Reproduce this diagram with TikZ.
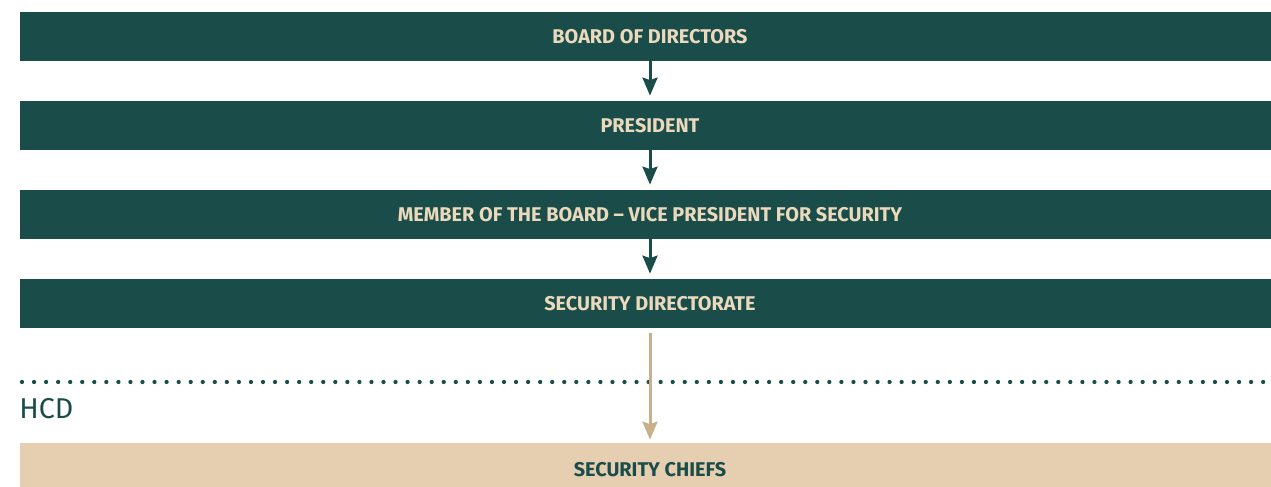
\documentclass[tikz,border=0pt]{standalone}
\usepackage{fontspec}
\setmainfont{Fira Sans}
\usepackage{xcolor}
\usetikzlibrary{arrows.meta}
\usetikzlibrary{positioning}
\definecolor{hcdgreen}{HTML}{1A4D4A}
\definecolor{hcdcream}{HTML}{EBD9BC}
\definecolor{hcdsand}{HTML}{E6CFB1}
\definecolor{hcdtan}{HTML}{C8B08C}

\begin{document}
\begin{tikzpicture}[
  level/.style={fill=hcdgreen,text=hcdcream,minimum width=25.2cm,minimum height=0.98cm,inner sep=0pt,text depth=0pt,font=\fontsize{11.3}{12}\selectfont\bfseries},
  unit/.style={fill=hcdsand,text=hcdgreen,minimum width=25.2cm,minimum height=1.04cm,inner sep=0pt,text depth=0pt,font=\fontsize{11.3}{12}\selectfont\bfseries},
  ptr/.style={-{Stealth[length=0.36cm,width=0.3cm,inset=0.05cm]},line width=0.06cm,color=hcdgreen,shorten >=0.1cm},
  link/.style={-{Stealth[length=0.36cm,width=0.3cm,inset=0.05cm]},line width=0.06cm,color=hcdtan,shorten <=0.1cm,shorten >=0.06cm},
  border/.style={hcdgreen,line width=0.085cm,line cap=round,dash pattern=on 0pt off 0.241cm}
]
\useasboundingbox (0,0) rectangle (25.42,-9.74);
% Levels
\node[level] (board) at (13,-0.73) {BOARD OF DIRECTORS};
\node[level] (pres) at (13,-2.51) {PRESIDENT};
\node[level] (vice) at (13,-4.29) {MEMBER OF THE BOARD -- VICE PRESIDENT FOR SECURITY};
\node[level] (dir) at (13,-6.07) {SECURITY DIRECTORATE};
% HCD
\node[unit] (chiefs) at (13,-9.38) {SECURITY CHIEFS};
\coordinate (bl) at (0.44,-7.64);
\coordinate (br) at (25.38,-7.64);
\draw[border] (bl) -- (br);
\node[anchor=base west,inner sep=0pt,text=hcdgreen,font=\fontsize{16.3}{18}\selectfont] (hcd) at (0.38,-8.37) {HCD};

\draw[ptr] (board) -- (pres);
\draw[ptr] (pres) -- (vice);
\draw[ptr] (vice) -- (dir);
\draw[link] (dir) -- (chiefs);
\end{tikzpicture}
\end{document}
